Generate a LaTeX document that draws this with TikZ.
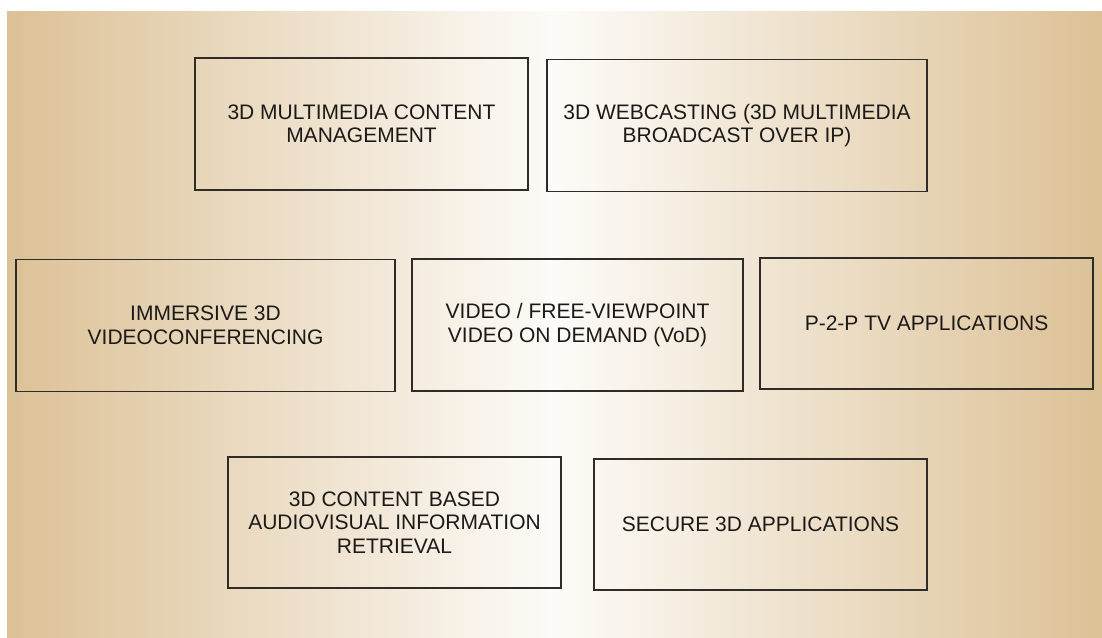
\documentclass[tikz,border=0pt]{standalone}
\usepackage{fontspec}
\setmainfont{Liberation Sans}
\usetikzlibrary{positioning}
\definecolor{apptan}{HTML}{DCC196}
\definecolor{appwhite}{HTML}{FDFBF8}
\definecolor{appline}{HTML}{2E2B28}
\definecolor{apptext}{HTML}{1C1A18}

\begin{document}
\begin{tikzpicture}[x=1pt, y=-1pt,
    appbox/.style={draw=appline, line width=1.3pt, align=center, inner sep=0pt, text=apptext,
      font=\fontsize{21}{23.5}\selectfont}]
      \useasboundingbox (0,0) rectangle (1102,637);
      \shade[left color=apptan, right color=apptan, middle color=appwhite] (7,11) rectangle (1102,637);
      % top row
      \node[appbox, minimum width=333pt, minimum height=132pt] (contentmgmt) at (361.5,124) {3D MULTIMEDIA CONTENT\\MANAGEMENT};
      \node[appbox, minimum width=380pt, minimum height=132pt] (webcast) at (737,125.5) {3D WEBCASTING (3D MULTIMEDIA\\BROADCAST OVER IP)};
      % middle row
      \node[appbox, minimum width=379pt, minimum height=132pt] (videoconf) at (205.5,325.5) {IMMERSIVE 3D\\VIDEOCONFERENCING};
      \node[appbox, minimum width=331pt, minimum height=132pt] (vod) at (577.5,325) {VIDEO / FREE-VIEWPOINT\\VIDEO ON DEMAND (VoD)};
      \node[appbox, minimum width=333pt, minimum height=131pt] (ptwoptv) at (926.5,323.5) {P-2-P TV APPLICATIONS};
      % bottom row
      \node[appbox, minimum width=333pt, minimum height=131pt] (retrieval) at (394.5,522.5) {3D CONTENT BASED\\AUDIOVISUAL INFORMATION\\RETRIEVAL};
      \node[appbox, minimum width=333pt, minimum height=131pt] (secure) at (760.5,524.5) {SECURE 3D APPLICATIONS};
\end{tikzpicture}
\end{document}
